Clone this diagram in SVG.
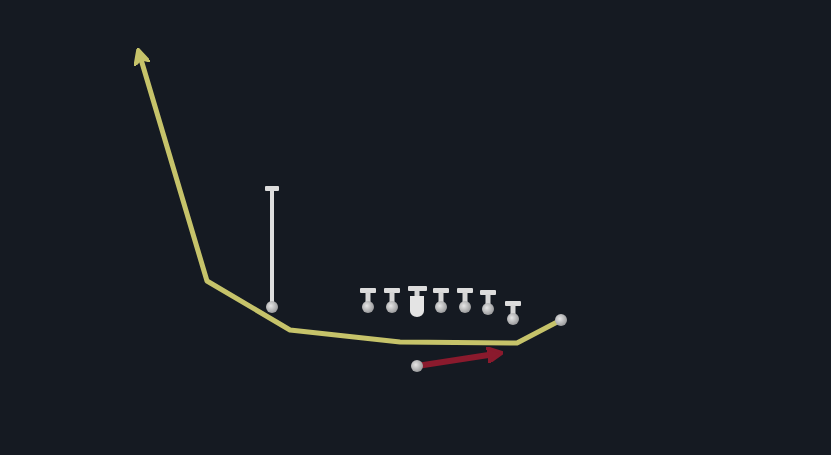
<svg xmlns="http://www.w3.org/2000/svg" width="831" height="455" viewBox="0 0 831 455">
<defs>
<radialGradient id="ball" cx="0.4" cy="0.4" r="0.7">
<stop offset="0" stop-color="#e6e6e6"/>
<stop offset="1" stop-color="#8f9092"/>
</radialGradient>
<marker id="yHead" viewBox="0 0 10 10" refX="5" refY="5" markerWidth="3.2" markerHeight="3.2" orient="auto" markerUnits="strokeWidth">
<path d="M0,0 L10,5 L0,10 L3,5 Z" fill="#c6c36a" stroke="#c6c36a" stroke-width="1.5" stroke-linejoin="round"/>
</marker>
<marker id="rHead" viewBox="0 0 10 10" refX="5" refY="5" markerWidth="2.6" markerHeight="2.6" orient="auto" markerUnits="strokeWidth">
<path d="M0,0 L10,5 L0,10 Z" fill="#8a1a2d" stroke="#8a1a2d" stroke-width="2" stroke-linejoin="round"/>
</marker>
<style>
.route{fill:none;stroke:#c6c36a;stroke-width:5;stroke-linejoin:round;stroke-linecap:round}
.block{fill:none;stroke:#8a1a2d;stroke-width:6;stroke-linecap:round}
.stem{stroke:#d6d6d6;stroke-width:5}
.bar{fill:#dcdcdc}
.dot{fill:url(#ball)}
</style>
</defs>
<rect width="831" height="455" fill="#151a22"/>
<g id="connectors">
<polyline class="route" points="561,320 517,343 400,342 290,330 207,281 140,56" marker-end="url(#yHead)"/>
<line class="block" x1="417" y1="366" x2="495" y2="354" marker-end="url(#rHead)"/>
<line x1="272" y1="190" x2="272" y2="302" stroke="#dedede" stroke-width="4"/>
</g>
<g id="wr-vertical">
<rect class="bar" x="265" y="186" width="14" height="5" rx="1"/>
<circle class="dot" cx="272" cy="307" r="6"/>
</g>
<g id="receiver-right"><circle class="dot" cx="561" cy="320" r="6"/></g>
<g id="back"><circle class="dot" cx="417" cy="366" r="6"/></g>
<g id="ol1"><rect class="bar" x="360" y="288" width="16" height="5" rx="1"/><line class="stem" x1="368" y1="292" x2="368" y2="303"/><circle class="dot" cx="368" cy="307" r="6"/></g>
<g id="ol2"><rect class="bar" x="384" y="288" width="16" height="5" rx="1"/><line class="stem" x1="392" y1="292" x2="392" y2="303"/><circle class="dot" cx="392" cy="307" r="6"/></g>
<g id="center"><rect class="bar" x="408" y="286" width="19" height="5" rx="1"/><line class="stem" x1="417" y1="290" x2="417" y2="298"/><path d="M410,296 H424 V311 A7,6 0 0 1 410,311 Z" fill="#e4e4e4"/></g>
<g id="ol4"><rect class="bar" x="433" y="288" width="16" height="5" rx="1"/><line class="stem" x1="441" y1="292" x2="441" y2="303"/><circle class="dot" cx="441" cy="307" r="6"/></g>
<g id="ol5"><rect class="bar" x="457" y="288" width="16" height="5" rx="1"/><line class="stem" x1="465" y1="292" x2="465" y2="303"/><circle class="dot" cx="465" cy="307" r="6"/></g>
<g id="ol6"><rect class="bar" x="480" y="290" width="16" height="5" rx="1"/><line class="stem" x1="488" y1="294" x2="488" y2="305"/><circle class="dot" cx="488" cy="309" r="6"/></g>
<g id="te"><rect class="bar" x="505" y="301" width="16" height="5" rx="1"/><line class="stem" x1="513" y1="305" x2="513" y2="315"/><circle class="dot" cx="513" cy="319" r="6"/></g>
</svg>
